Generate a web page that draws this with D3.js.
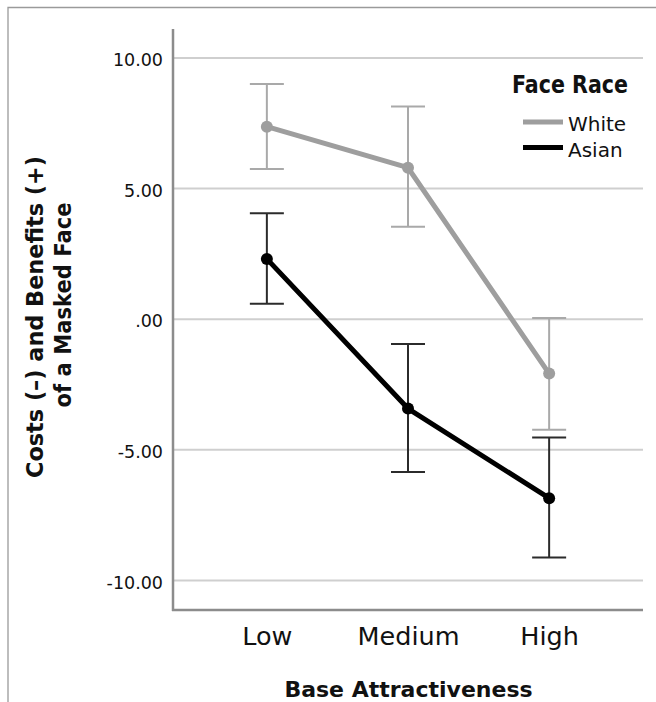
<!DOCTYPE html>
<html>
<head>
<meta charset="utf-8">
<script src="https://cdn.jsdelivr.net/npm/d3@7"></script>
<style>
  html, body { margin: 0; padding: 0; background: #fff; }
  svg { display: block; font-family: "DejaVu Sans", sans-serif; }
</style>
</head>
<body>
<svg id="chart" width="656" height="702"></svg>
<script>
// ---- data ----
const categories = ["Low", "Medium", "High"];
const seriesNames = ["White", "Asian"];
const whiteMean  = [7.35, 5.78, -2.10];
const whiteUpper = [8.98, 8.12, 0.03];
const whiteLower = [5.73, 3.52, -4.25];
const asianMean  = [2.29, -3.44, -6.87];
const asianUpper = [4.04, -0.97, -4.55];
const asianLower = [0.57, -5.87, -9.14];
const yTickValues = [10, 5, 0, -5, -10];
const yTickLabels = ["10.00", "5.00", ".00", "-5.00", "-10.00"];
const xTitle = "Base Attractiveness";
const yTitleLines = ["Costs (\u2013) and Benefits (+)", "of a Masked Face"];
const legendTitle = "Face Race";

// ---- layout ----
const svg = d3.select("#chart");
const pLeft = 173, pRight = 643, pTop = 29, pBottom = 610;

const x = d3.scalePoint().domain(categories).range([pLeft, pRight]).padding(0.665);
const y = d3.scaleLinear().domain([-11.15, 11.09]).range([pBottom, pTop]);

// outer frame (left + top edges visible)
svg.append("path")
  .attr("d", `M8,702 L8,7.5 L656,7.5`)
  .attr("fill", "none").attr("stroke", "#9a9a9a").attr("stroke-width", 1.3);

// y axis with gridlines
const yAxis = d3.axisLeft(y)
  .tickValues(yTickValues)
  .tickFormat((d, i) => yTickLabels[i])
  .tickSizeInner(-(pRight - pLeft))
  .tickSizeOuter(0)
  .tickPadding(10);
const gy = svg.append("g").attr("transform", `translate(${pLeft},0)`).call(yAxis);
gy.select(".domain").remove();
gy.selectAll(".tick line").attr("stroke", "#cfcfcf").attr("stroke-width", 2);
gy.selectAll(".tick text")
  .attr("font-family", "DejaVu Sans").attr("font-size", 17.5)
  .attr("fill", "#111").attr("dy", "0.46em");

// x axis
const xAxis = d3.axisBottom(x).tickSize(0).tickPadding(17);
const gx = svg.append("g").attr("transform", `translate(0,${pBottom})`).call(xAxis);
gx.select(".domain").remove();
gx.selectAll(".tick text")
  .attr("font-family", "DejaVu Sans").attr("font-size", 25.5)
  .attr("fill", "#111");

// axis lines
svg.append("line").attr("x1", pLeft).attr("x2", pLeft).attr("y1", pTop).attr("y2", pBottom + 1)
  .attr("stroke", "#8c8c8c").attr("stroke-width", 2.5);
svg.append("line").attr("x1", pLeft - 1).attr("x2", pRight).attr("y1", pBottom).attr("y2", pBottom)
  .attr("stroke", "#8c8c8c").attr("stroke-width", 2.5);

// series
const series = [
  { name: seriesNames[0], mean: whiteMean, upper: whiteUpper, lower: whiteLower,
    line: "#9e9e9e", err: "#a9a9a9" },
  { name: seriesNames[1], mean: asianMean, upper: asianUpper, lower: asianLower,
    line: "#000000", err: "#2b2b2b" }
];
const capHalf = 17;
const lineGen = d3.line().x((d, i) => x(categories[i])).y(d => y(d));

series.forEach(s => {
  const g = svg.append("g");
  categories.forEach((c, i) => {
    const cx = x(c);
    g.append("line").attr("x1", cx).attr("x2", cx)
      .attr("y1", y(s.upper[i])).attr("y2", y(s.lower[i]))
      .attr("stroke", s.err).attr("stroke-width", 2);
    [s.upper[i], s.lower[i]].forEach(v => {
      g.append("line").attr("x1", cx - capHalf).attr("x2", cx + capHalf)
        .attr("y1", y(v)).attr("y2", y(v))
        .attr("stroke", s.err).attr("stroke-width", 2);
    });
  });
  g.append("path").datum(s.mean).attr("d", lineGen)
    .attr("fill", "none").attr("stroke", s.line).attr("stroke-width", 5)
    .attr("stroke-linejoin", "round");
  g.selectAll("circle").data(s.mean).join("circle")
    .attr("cx", (d, i) => x(categories[i])).attr("cy", d => y(d))
    .attr("r", 6).attr("fill", s.line);
});

// legend
svg.append("text").attr("x", 512).attr("y", 93)
  .attr("font-family", "DejaVu Sans")
  .attr("font-weight", "bold").attr("font-size", 24).attr("fill", "#111")
  .attr("textLength", 116).attr("lengthAdjust", "spacingAndGlyphs")
  .text(legendTitle);
series.forEach((s, i) => {
  const ly = 122 + i * 25.5;
  svg.append("line").attr("x1", 523).attr("x2", 563).attr("y1", ly).attr("y2", ly)
    .attr("stroke", s.line).attr("stroke-width", 5);
  svg.append("text").attr("x", 568).attr("y", ly + 9)
    .attr("font-family", "DejaVu Sans").attr("font-size", 20).attr("fill", "#111")
    .text(s.name);
});

// axis titles
svg.append("text").attr("x", 408.5).attr("y", 697)
  .attr("text-anchor", "middle")
  .attr("font-family", "DejaVu Sans").attr("font-weight", "bold").attr("font-size", 22)
  .attr("fill", "#111").text(xTitle);

const yTitleCenters = [317, 305];
const yTitleBaselines = [43, 71];
const yTitleLengths = [322, 205];
yTitleLines.forEach((t, i) => {
  svg.append("text")
    .attr("transform", `translate(${yTitleBaselines[i]},${yTitleCenters[i]}) rotate(-90)`)
    .attr("text-anchor", "middle")
    .attr("font-family", "DejaVu Sans").attr("font-weight", "bold").attr("font-size", 23)
    .attr("textLength", yTitleLengths[i]).attr("lengthAdjust", "spacingAndGlyphs")
    .attr("fill", "#111").text(t);
});
</script>
</body>
</html>
